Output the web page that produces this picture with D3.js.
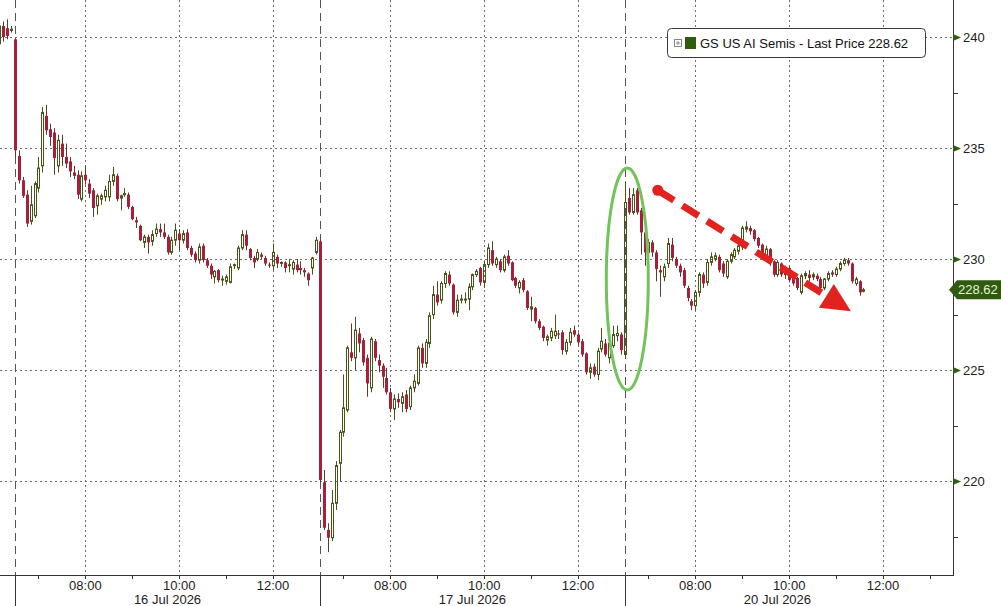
<!DOCTYPE html>
<html>
<head>
<meta charset="utf-8">
<script src="https://cdn.jsdelivr.net/npm/d3@7"></script>
<style>
  html, body { margin: 0; padding: 0; background: #fff; }
  svg { display: block; }
  text { font-family: "Liberation Sans", Arial, sans-serif; }
</style>
</head>
<body>
<svg id="chart" width="1001" height="606"></svg>
<script>
// ---------------- DATA ----------------
const sessionDates = ["15 Jul 2026", "16 Jul 2026", "17 Jul 2026", "20 Jul 2026"];
const sessionFirstBar = ["12:40", "06:30", "06:30", "06:30"];
const sessionBarCounts = [4, 78, 78, 62];
const sessionOpen = "06:30";
const sessionClose = "13:00";
const hourTicks = ["07:00","08:00","09:00","10:00","11:00","12:00","13:00"];
const hourLabels = ["08:00", "10:00", "12:00"];
const yTicks = [220, 225, 230, 235, 240];
const yMinorTicks = [217.5, 222.5, 227.5, 232.5, 237.5];
const seriesName = "GS US AI Semis - Last Price";
const lastPrice = 228.62;

const open = [
  // 15 Jul (tail)
  239.7, 240.5, 240.4, 240.3,
  // 16 Jul
  239.9, 234.65, 233.55, 232.9, 231.7, 231.95, 233.2, 234.2, 236.45, 235.85,
  235.7, 234.2, 235.2, 234.6, 234.4, 233.9, 233.8, 232.7, 233.8, 233.4,
  233.1, 232.4, 232.7, 232.8, 232.8, 233.5, 233.75, 232.75, 232.9, 232.9,
  232.35, 231.75, 231.5, 230.75, 231.0, 230.8, 231.15, 231.35, 231.2, 231.0,
  230.3, 230.85, 231.15, 230.85, 231.2, 230.5, 230.25, 229.95, 230.6, 229.95,
  229.7, 229.2, 229.5, 229.1, 229.0, 228.95, 229.75, 229.6, 230.5, 231.1,
  230.45, 230.05, 230.0, 230.2, 230.05, 229.75, 229.7, 230.1, 229.85, 229.85,
  229.7, 229.55, 229.75, 229.6, 229.5, 229.35, 229.6, 230.3,
  // 17 Jul
  230.8, 219.95, 217.8, 217.45, 219.0, 220.8, 222.2, 223.2, 225.8, 225.55,
  226.65, 226.35, 225.55, 224.2, 226.3, 225.45, 225.2, 224.65, 224.0, 223.25,
  223.7, 223.5, 223.9, 223.35, 224.2, 224.4, 226.0, 225.3, 226.2, 227.5,
  228.4, 228.15, 228.9, 229.3, 228.85, 227.6, 228.15, 228.2, 228.2, 228.75,
  229.3, 229.6, 228.95, 229.75, 230.4, 229.75, 229.9, 229.5, 230.15, 229.85,
  229.15, 228.7, 229.05, 228.55, 227.75, 227.8, 227.2, 226.95, 226.35, 226.45,
  226.55, 226.65, 226.7, 225.85, 226.25, 226.8, 226.6, 226.3, 225.75, 224.9,
  225.15, 224.8, 225.95, 226.2, 225.55, 226.1, 226.55, 226.6,
  // 20 Jul
  225.7, 232.75, 232.1, 233.1, 232.2, 231.2, 230.3, 230.75, 230.3, 229.5,
  229.2, 229.8, 230.65, 230.0, 229.7, 229.5, 228.7, 228.1, 227.9, 228.5,
  229.3, 228.95, 229.85, 230.0, 230.1, 229.8, 229.2, 229.9, 230.1, 230.35,
  230.55, 231.35, 231.4, 231.3, 230.95, 230.65, 230.1, 230.45, 229.9, 229.3,
  229.8, 229.3, 229.6, 229.35, 229.15, 228.5, 229.25, 229.3, 229.2, 229.25,
  229.1, 228.7, 229.1, 229.4, 229.3, 229.55, 229.8, 229.95, 229.8, 228.9,
  229.0, 228.55
];
const high = [
  240.6, 240.7, 240.8, 240.5,
  239.95, 234.9, 233.7, 233.1, 233.3, 233.5, 234.6, 236.85, 236.95, 236.1,
  235.9, 235.6, 235.6, 235.2, 234.6, 234.2, 234.0, 233.95, 234.2, 233.6,
  233.2, 232.95, 232.95, 233.3, 233.8, 234.15, 233.85, 232.9, 233.2, 233.0,
  232.4, 231.9, 231.55, 231.1, 231.1, 231.3, 231.6, 231.6, 231.6, 231.1,
  231.0, 231.6, 231.35, 231.3, 231.35, 230.6, 230.35, 230.7, 230.7, 230.05,
  229.8, 229.5, 229.55, 229.25, 229.3, 229.8, 229.8, 230.6, 231.3, 231.3,
  230.5, 230.15, 230.45, 230.3, 230.15, 229.85, 230.7, 230.2, 229.9, 229.9,
  230.0, 229.95, 230.0, 229.9, 229.6, 229.4, 230.1, 231.0,
  230.9, 220.5, 218.1, 219.6, 220.9, 222.3, 224.8, 226.1, 227.1, 227.4,
  226.9, 226.45, 225.7, 226.5, 226.4, 225.7, 225.3, 225.1, 224.2, 223.9,
  223.95, 224.0, 224.1, 224.3, 224.8, 226.1, 226.2, 226.4, 227.6, 228.8,
  229.0, 229.0, 229.45, 229.45, 228.9, 228.4, 228.4, 228.5, 228.9, 229.35,
  229.55, 229.65, 229.9, 230.7, 230.8, 230.1, 230.0, 230.2, 230.4, 229.9,
  229.2, 229.05, 229.15, 228.6, 228.3, 227.85, 227.3, 227.0, 226.6, 226.9,
  227.5, 226.8, 226.8, 226.4, 226.9, 227.0, 226.7, 226.4, 225.8, 225.3,
  225.3, 226.0, 226.9, 226.4, 226.3, 227.0, 227.0, 226.7,
  233.5, 233.2, 233.2, 233.2, 232.3, 231.4, 230.9, 230.85, 230.4, 229.7,
  229.8, 230.95, 230.95, 230.1, 229.8, 229.6, 228.8, 228.2, 228.6, 229.4,
  229.4, 230.0, 230.3, 230.3, 230.2, 229.9, 230.0, 230.3, 230.5, 230.8,
  231.5, 231.7, 231.5, 231.35, 231.0, 230.7, 230.6, 230.5, 229.95, 229.95,
  229.85, 229.7, 229.7, 229.4, 229.2, 229.35, 229.45, 229.5, 229.4, 229.35,
  229.2, 229.15, 229.45, 229.5, 229.65, 229.9, 230.05, 230.05, 229.85, 229.2,
  229.05, 228.7
];
const low = [
  239.5, 239.8, 239.9, 240.2,
  234.6, 233.4, 232.75, 231.45, 231.55, 231.85, 233.0, 233.9, 235.6, 235.1,
  233.8, 233.9, 234.2, 234.1, 233.7, 233.6, 232.7, 232.6, 233.35, 232.75,
  231.9, 232.0, 232.45, 232.6, 232.6, 233.3, 232.6, 232.2, 232.8, 232.25,
  231.75, 231.4, 230.8, 230.5, 230.25, 230.6, 231.0, 231.0, 230.9, 230.2,
  230.2, 230.6, 230.4, 230.7, 230.4, 230.1, 229.85, 229.8, 229.85, 229.6,
  229.1, 228.9, 228.95, 228.8, 228.85, 228.9, 229.55, 229.5, 230.4, 230.4,
  229.95, 229.6, 229.9, 230.0, 229.7, 229.6, 229.5, 229.6, 229.65, 229.4,
  229.4, 229.3, 229.4, 229.3, 229.2, 228.8, 229.3, 230.2,
  219.9, 217.8, 216.8, 217.3, 218.7, 220.0, 222.0, 223.1, 225.4, 225.0,
  225.8, 225.2, 223.8, 224.0, 225.4, 224.9, 224.2, 223.9, 223.1, 222.75,
  223.3, 223.1, 223.1, 223.2, 224.0, 224.3, 225.1, 225.1, 226.0, 227.3,
  227.9, 228.0, 228.7, 228.8, 227.5, 227.4, 228.0, 228.0, 227.7, 228.6,
  229.2, 228.8, 228.7, 229.6, 229.7, 229.6, 229.4, 229.4, 229.7, 229.0,
  228.7, 228.45, 228.5, 227.7, 227.2, 227.1, 226.8, 226.3, 226.1, 226.3,
  226.4, 226.4, 225.7, 225.7, 226.1, 226.5, 226.1, 225.6, 224.8, 224.6,
  224.7, 224.55, 225.8, 225.6, 225.3, 226.0, 226.3, 225.7,
  225.5, 232.0, 232.0, 232.0, 230.2, 229.7, 230.1, 230.1, 229.0, 228.3,
  229.0, 229.6, 229.9, 229.6, 229.2, 228.7, 228.1, 227.7, 227.7, 228.3,
  228.7, 228.8, 229.7, 229.9, 229.4, 229.2, 229.1, 229.8, 230.0, 230.2,
  230.4, 231.2, 231.1, 230.8, 230.5, 230.0, 230.0, 229.7, 229.2, 229.2,
  229.2, 229.1, 228.95, 228.8, 228.6, 228.4, 229.1, 229.0, 229.05, 229.0,
  228.6, 228.6, 229.0, 229.2, 229.2, 229.45, 229.7, 229.7, 228.9, 228.8,
  228.35, 228.5
];
const close = [
  240.5, 240.0, 240.05, 240.35,
  234.9, 233.55, 232.85, 231.6, 232.45, 233.4, 234.1, 236.6, 235.8, 235.5,
  234.55, 235.35, 234.6, 234.3, 233.95, 233.75, 232.9, 233.75, 233.55, 232.95,
  232.3, 232.85, 232.85, 233.1, 233.5, 233.8, 232.7, 232.85, 232.95, 232.35,
  231.8, 231.65, 230.85, 231.0, 230.75, 231.1, 231.35, 231.2, 231.0, 230.3,
  230.85, 231.3, 230.85, 231.15, 230.5, 230.2, 229.95, 230.55, 229.95, 229.7,
  229.3, 229.45, 229.05, 229.1, 229.2, 229.65, 229.75, 230.5, 231.1, 230.6,
  230.05, 229.85, 230.3, 230.1, 229.8, 229.7, 230.3, 229.8, 229.85, 229.6,
  229.75, 229.85, 229.5, 229.5, 229.4, 229.05, 230.05, 230.85,
  220.05, 217.9, 217.45, 219.0, 220.7, 222.2, 223.3, 226.0, 225.55, 226.8,
  226.2, 225.35, 224.4, 226.4, 225.55, 225.2, 224.7, 224.0, 223.25, 223.7,
  223.55, 223.8, 223.25, 224.2, 224.5, 226.0, 225.3, 226.25, 227.45, 228.4,
  228.05, 228.9, 229.35, 228.9, 227.6, 228.15, 228.2, 228.2, 228.75, 229.3,
  229.45, 228.95, 229.75, 230.5, 229.8, 230.0, 229.5, 230.1, 229.8, 229.05,
  228.8, 228.95, 228.6, 227.8, 227.85, 227.2, 226.9, 226.45, 226.5, 226.75,
  226.75, 226.6, 225.9, 226.25, 226.7, 226.6, 226.25, 225.7, 224.9, 225.1,
  224.8, 225.85, 226.3, 225.7, 226.2, 226.6, 226.65, 225.9,
  232.55, 232.1, 232.9, 232.1, 231.2, 230.3, 230.75, 230.3, 229.55, 229.4,
  229.65, 230.7, 230.05, 229.7, 229.4, 228.8, 228.25, 227.9, 228.5, 229.3,
  228.9, 229.85, 230.1, 230.15, 229.5, 229.35, 229.9, 230.2, 230.4, 230.6,
  231.4, 231.45, 231.25, 230.9, 230.6, 230.1, 230.45, 229.85, 229.3, 229.85,
  229.3, 229.6, 229.05, 228.9, 228.7, 229.25, 229.35, 229.15, 229.3, 229.1,
  228.7, 229.1, 229.35, 229.3, 229.55, 229.8, 229.95, 229.8, 229.0, 229.1,
  228.5, 228.62
];

// Annotation anchors (session day index, time, price)
const ellipseAnchor = { day: 3, time: "06:33", price: 229.1 };
const arrowStart = { day: 3, time: "07:12", price: 233.1 };
const arrowEnd = { day: 3, time: "11:19", price: 227.65 };

// ---------------- LAYOUT ----------------
const W = 1001, H = 606;
const plotRight = 953, plotBottom = 575;
const svg = d3.select("#chart");
svg.append("rect").attr("width", W).attr("height", H).attr("fill", "#fff");

const toMin = s => { const [h, m] = s.split(":").map(Number); return h * 60 + m; };
const openMin = toMin(sessionOpen), closeMin = toMin(sessionClose);
const sessLen = closeMin - openMin; // 390
// collapsed trading time: day 1 (16 Jul) open = 0
const tOf = (day, hhmm) => (day - 1) * sessLen + (toMin(hhmm) - openMin);

const x = d3.scaleLinear().domain([-19.2, 1199.5]).range([0, plotRight]);
const y = d3.scaleLinear().domain([215.77, 241.67]).range([plotBottom, 0]);

// build bars
const bars = [];
let k = 0;
sessionBarCounts.forEach((n, d) => {
  const t0 = tOf(d, sessionFirstBar[d]);
  for (let i = 0; i < n; i++, k++) {
    bars.push({ t: t0 + 5 * i, o: open[k], h: high[k], l: low[k], c: close[k] });
  }
});

const gridColor = "#6e6e6e";

// clip
svg.append("clipPath").attr("id", "plotclip")
  .append("rect").attr("x", 0).attr("y", 0).attr("width", plotRight).attr("height", plotBottom);

const grid = svg.append("g");
// horizontal grid
grid.selectAll("line.h").data(yTicks).join("line")
  .attr("x1", 0).attr("x2", plotRight)
  .attr("y1", d => Math.round(y(d)) + 0.5).attr("y2", d => Math.round(y(d)) + 0.5)
  .attr("stroke", gridColor).attr("stroke-width", 1).attr("stroke-dasharray", "2,3");

// hour ticks data
const hourTickData = [];
[1, 2, 3].forEach(d => hourTicks.forEach(h => hourTickData.push({ day: d, h, t: tOf(d, h) })));
// vertical dotted grid at labelled hours
grid.selectAll("line.v").data(hourTickData.filter(e => hourLabels.includes(e.h))).join("line")
  .attr("x1", d => Math.round(x(d.t)) + 0.5).attr("x2", d => Math.round(x(d.t)) + 0.5)
  .attr("y1", 0).attr("y2", plotBottom)
  .attr("stroke", gridColor).attr("stroke-width", 1).attr("stroke-dasharray", "2,3");

// day separators
const dayStarts = [1, 2, 3].map(d => tOf(d, sessionOpen));
grid.selectAll("line.day").data(dayStarts).join("line")
  .attr("x1", d => Math.round(x(d)) + 0.5).attr("x2", d => Math.round(x(d)) + 0.5)
  .attr("y1", 0).attr("y2", plotBottom)
  .attr("stroke", "#555").attr("stroke-width", 1).attr("stroke-dasharray", "8,5");

// ---------------- CANDLES ----------------
const upStroke = "#4b5316";
const downFill = "#a71f3b";
const wickUp = "#4b5316", wickDown = "#5e3a2a";
const candles = svg.append("g").attr("clip-path", "url(#plotclip)");
const bw = 3;
const cg = candles.selectAll("g").data(bars).join("g");
cg.append("line")
  .attr("x1", d => Math.round(x(d.t)) + 0.5).attr("x2", d => Math.round(x(d.t)) + 0.5)
  .attr("y1", d => y(d.h)).attr("y2", d => d.c >= d.o ? y(Math.max(d.o, d.c)) : y(d.l))
  .attr("stroke", d => d.c >= d.o ? wickUp : wickDown).attr("stroke-width", 1);
cg.filter(d => d.c >= d.o).append("line")
  .attr("x1", d => Math.round(x(d.t)) + 0.5).attr("x2", d => Math.round(x(d.t)) + 0.5)
  .attr("y1", d => y(Math.min(d.o, d.c))).attr("y2", d => y(d.l))
  .attr("stroke", wickUp).attr("stroke-width", 1);
cg.append("rect")
  .attr("x", d => Math.round(x(d.t)) - 1 + (d.c >= d.o ? 0.5 : 0))
  .attr("width", d => d.c >= d.o ? bw - 1 : bw)
  .attr("y", d => y(Math.max(d.o, d.c)))
  .attr("height", d => Math.max(1, y(Math.min(d.o, d.c)) - y(Math.max(d.o, d.c))))
  .attr("fill", d => d.c >= d.o ? "none" : downFill)
  .attr("stroke", d => d.c >= d.o ? upStroke : "none")
  .attr("stroke-width", 1);

// ---------------- AXES ----------------
const axisColor = "#333";
// Y axis
svg.append("line").attr("x1", plotRight + 0.5).attr("x2", plotRight + 0.5)
  .attr("y1", 0).attr("y2", plotBottom + 0.5).attr("stroke", axisColor);
const yax = svg.append("g");
yax.selectAll("path.tri").data(yTicks).join("path")
  .attr("d", d => { const yy = Math.round(y(d)) + 0.5; return `M${plotRight},${yy - 3.5}L${plotRight + 8},${yy}L${plotRight},${yy + 3.5}Z`; })
  .attr("fill", "#2f5e12");
yax.selectAll("line.minor").data(yMinorTicks).join("line")
  .attr("x1", plotRight).attr("x2", plotRight + 5)
  .attr("y1", d => Math.round(y(d)) + 0.5).attr("y2", d => Math.round(y(d)) + 0.5)
  .attr("stroke", axisColor);
yax.selectAll("text").data(yTicks).join("text")
  .attr("x", plotRight + 10).attr("y", d => y(d) + 4.5)
  .attr("font-size", 13).attr("fill", "#222").text(d => d);

// last price tag
const ly = y(lastPrice);
svg.append("path")
  .attr("d", `M${plotRight - 4},${ly}L${plotRight + 4},${ly - 9.5}L${W},${ly - 9.5}L${W},${ly + 9.5}L${plotRight + 4},${ly + 9.5}Z`)
  .attr("fill", "#2f5a10");
svg.append("text").attr("x", plotRight + 5).attr("y", ly + 4.5)
  .attr("font-size", 13).attr("fill", "#e6f4d2").text(lastPrice.toFixed(2));

// X axis
svg.append("line").attr("x1", 0).attr("x2", plotRight + 1)
  .attr("y1", plotBottom + 0.5).attr("y2", plotBottom + 0.5).attr("stroke", axisColor);
const xax = svg.append("g");
xax.selectAll("line.ht").data(hourTickData).join("line")
  .attr("x1", d => Math.round(x(d.t)) + 0.5).attr("x2", d => Math.round(x(d.t)) + 0.5)
  .attr("y1", plotBottom).attr("y2", plotBottom + 4).attr("stroke", axisColor);
xax.selectAll("line.ds").data(dayStarts).join("line")
  .attr("x1", d => Math.round(x(d)) + 0.5).attr("x2", d => Math.round(x(d)) + 0.5)
  .attr("y1", plotBottom).attr("y2", H).attr("stroke", axisColor);
xax.selectAll("text.hl").data(hourTickData.filter(e => hourLabels.includes(e.h))).join("text")
  .attr("x", d => x(d.t)).attr("y", plotBottom + 15)
  .attr("text-anchor", "middle").attr("font-size", 13).attr("fill", "#222")
  .text(d => d.h);
xax.selectAll("text.dl").data([1, 2, 3]).join("text")
  .attr("x", d => x(tOf(d, sessionOpen) + sessLen / 2)).attr("y", plotBottom + 29)
  .attr("text-anchor", "middle").attr("font-size", 13).attr("fill", "#222")
  .text(d => sessionDates[d]);

// ---------------- ANNOTATIONS ----------------
const ann = svg.append("g");
ann.append("ellipse")
  .attr("cx", x(tOf(ellipseAnchor.day, ellipseAnchor.time)))
  .attr("cy", y(ellipseAnchor.price))
  .attr("rx", 21).attr("ry", y(ellipseAnchor.price - 5) - y(ellipseAnchor.price))
  .attr("fill", "none").attr("stroke", "#72c35a").attr("stroke-width", 3);

const ax1 = x(tOf(arrowStart.day, arrowStart.time)), ay1 = y(arrowStart.price);
const ax2 = x(tOf(arrowEnd.day, arrowEnd.time)), ay2 = y(arrowEnd.price);
const len = Math.hypot(ax2 - ax1, ay2 - ay1);
const ux = (ax2 - ax1) / len, uy = (ay2 - ay1) / len;
const headL = 29, headW = 14;
const bx = ax2 - ux * headL, by = ay2 - uy * headL;
const red = "#e0231f";
ann.append("line")
  .attr("x1", ax1).attr("y1", ay1).attr("x2", bx + ux * 2).attr("y2", by + uy * 2)
  .attr("stroke", red).attr("stroke-width", 7).attr("stroke-dasharray", "19,10");
ann.append("circle").attr("cx", ax1).attr("cy", ay1).attr("r", 5.5).attr("fill", red);
ann.append("path")
  .attr("d", `M${ax2},${ay2}L${bx - uy * headW},${by + ux * headW}L${bx + uy * headW},${by - ux * headW}Z`)
  .attr("fill", red);

// ---------------- LEGEND ----------------
const lg = svg.append("g");
lg.append("rect").attr("x", 667.5).attr("y", 28.5).attr("width", 258).attr("height", 29).attr("rx", 4)
  .attr("fill", "#fff").attr("stroke", "#3a3a3a");
lg.append("rect").attr("x", 674.5).attr("y", 39.5).attr("width", 7).attr("height", 7)
  .attr("fill", "#fff").attr("stroke", "#888");
lg.append("line").attr("x1", 676).attr("x2", 680).attr("y1", 43).attr("y2", 43).attr("stroke", "#888");
lg.append("line").attr("x1", 678).attr("x2", 678).attr("y1", 41).attr("y2", 45).attr("stroke", "#888");
lg.append("rect").attr("x", 685).attr("y", 37).attr("width", 11).attr("height", 12).attr("fill", "#2e5b0c");
lg.append("text").attr("x", 700).attr("y", 48).attr("font-size", 13).attr("fill", "#111")
  .text(`${seriesName} ${lastPrice.toFixed(2)}`);
</script>
</body>
</html>
